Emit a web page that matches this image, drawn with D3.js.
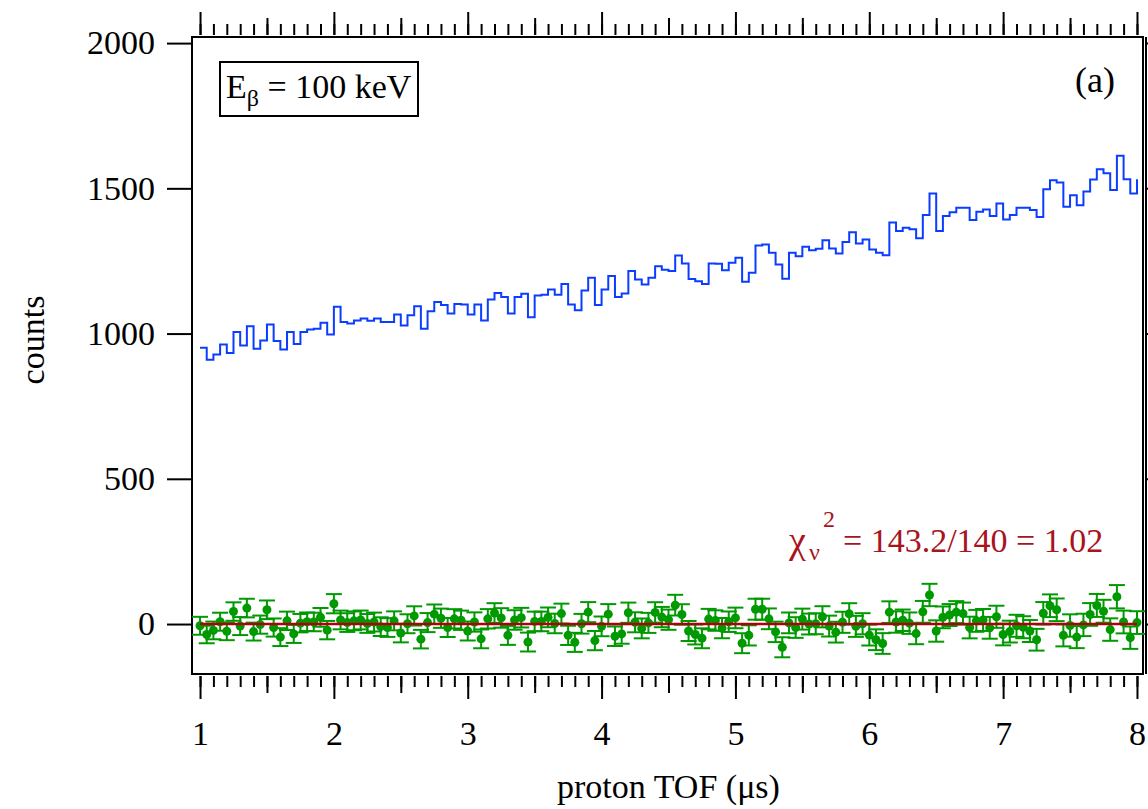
<!DOCTYPE html>
<html lang="en">
<head>
<meta charset="utf-8">
<title>proton TOF spectrum</title>
<script src="https://d3js.org/d3.v7.min.js"></script>
<style>
  body { margin: 0; background: #fff; }
  svg text { font-family: "Liberation Serif", "Times New Roman", serif; }
  .axis text { font-size: 34px; fill: #000; }
  .axis path.domain { display: none; }
  .axis line { stroke: #000; stroke-width: 2; }
</style>
</head>
<body>
<div id="chart"></div>
<script>
// histogram: bins of 0.05 us starting at 1 us
const binStart = 1.0;
const binWidth = 0.05;
const counts = [
  951, 910, 928, 962, 933, 1005, 959, 1025, 948, 976,
  1031, 974, 945, 1005, 964, 1005, 1014, 1017, 1037, 997,
  1092, 1040, 1035, 1045, 1052, 1044, 1052, 1040, 1040, 1066,
  1028, 1063, 1094, 1017, 1077, 1109, 1098, 1069, 1102, 1100,
  1066, 1100, 1045, 1117, 1140, 1126, 1069, 1126, 1137, 1056,
  1131, 1134, 1152, 1134, 1171, 1100, 1080, 1148, 1192, 1098,
  1152, 1198, 1126, 1138, 1215, 1186, 1169, 1192, 1232, 1220,
  1215, 1269, 1241, 1188, 1180, 1171, 1241, 1240, 1218, 1244,
  1261, 1178, 1209, 1303, 1307, 1278, 1238, 1189, 1278, 1266,
  1299, 1287, 1292, 1321, 1293, 1276, 1315, 1349, 1310, 1324,
  1289, 1278, 1270, 1382, 1353, 1364, 1359, 1328, 1408, 1482,
  1353, 1405, 1418, 1433, 1433, 1391, 1419, 1427, 1405, 1448,
  1393, 1408, 1433, 1433, 1425, 1401, 1497, 1528, 1520, 1437,
  1476, 1442, 1489, 1530, 1566, 1552, 1494, 1612, 1531, 1482,
  1531
];
// fit residuals (counts)
const residuals = [
  -6, -36, -22, 8, -25, 43, -7, 55, -26, -2,
  49, -12, -45, 11, -34, 3, 8, 7, 23, -21,
  70, 14, 5, 11, 14, 2, 7, -9, -12, 11,
  -31, 1, 28, -52, 5, 34, 20, -12, 18, 13,
  -24, 7, -51, 18, 38, 21, -39, 14, 22, -62,
  9, 9, 23, 2, 36, -39, -63, 1, 41, -57,
  -8, 34, -42, -34, 39, 6, -15, 4, 40, 24,
  15, 65, 33, -24, -36, -49, 17, 12, -14, 8,
  21, -66, -39, 51, 51, 18, -27, -80, 4, -12,
  17, 0, 1, 25, -7, -28, 6, 35, -8, 1,
  -38, -54, -67, 41, 7, 13, 3, -33, 42, 100,
  -24, 23, 31, 41, 36, -12, 11, 14, -13, 25,
  -36, -26, -6, -11, -24, -54, 37, 63, 49, -39,
  -5, -45, -3, 33, 64, 44, -19, 94, 7, -47,
  5
];
const xTicks = [1, 2, 3, 4, 5, 6, 7, 8];
const yTicks = [0, 500, 1000, 1500, 2000];

const margin = { top: 37, left: 192 };
const width = 951, height = 637;

const data = counts.map(function(c, i) {
  return { t: binStart + i * binWidth, c: c, r: residuals[i], e: Math.sqrt(c) };
});

const x = d3.scaleLinear().domain([0.94, 8.045]).range([0, width]);
const y = d3.scaleLinear().domain([-172, 2021]).range([height, 0]);

const svg = d3.select("#chart").append("svg")
  .attr("width", 1148).attr("height", 809);
const g = svg.append("g")
  .attr("transform", "translate(" + margin.left + "," + margin.top + ")");

// bottom and top axes: major / half / minor ticks
const minorT = d3.range(10, 81).map(function(d) { return d / 10; });
const halfT = [1.5, 2.5, 3.5, 4.5, 5.5, 6.5, 7.5];
function tickLayer(axisFn, vals, size, yPos, labels) {
  const a = axisFn(x).tickValues(vals).tickSize(size);
  if (labels) a.tickPadding(22).tickFormat(d3.format("d"));
  else a.tickFormat("");
  g.append("g").attr("class", "axis")
    .attr("transform", "translate(0," + yPos + ")")
    .call(a);
}
tickLayer(d3.axisBottom, minorT, 11, height + 2, false);
tickLayer(d3.axisBottom, halfT, 17, height + 2, false);
tickLayer(d3.axisBottom, xTicks, 23, height + 2, true);
tickLayer(d3.axisTop, minorT, 11, -2, false);
tickLayer(d3.axisTop, halfT, 17, -2, false);
tickLayer(d3.axisTop, xTicks, 23, -2, false);

// left and right axes
g.append("g").attr("class", "axis")
  .call(d3.axisLeft(y).tickValues(yTicks).tickSize(25).tickPadding(12)
    .tickFormat(d3.format("d")));
g.append("g").attr("class", "axis")
  .attr("transform", "translate(" + (width + 3) + ",0)")
  .call(d3.axisRight(y).tickValues(yTicks).tickSize(25).tickFormat(""));
g.append("line")
  .attr("x1", width + 3).attr("x2", width + 3)
  .attr("y1", 0).attr("y2", height)
  .attr("stroke", "#000").attr("stroke-width", 2);

// frame
g.append("rect")
  .attr("x", 0).attr("y", 0).attr("width", width).attr("height", height)
  .attr("fill", "none").attr("stroke", "#000").attr("stroke-width", 2);

// histogram
const step = d3.line()
  .x(function(d) { return x(d.t); })
  .y(function(d) { return y(d.c); })
  .curve(d3.curveStepAfter);
g.append("path").datum(data)
  .attr("d", step)
  .attr("fill", "none")
  .attr("stroke", "#0a3dff")
  .attr("stroke-width", 2);

// residuals with error bars
const green = "#009a00";
const res = g.append("g");
res.selectAll(".ebar").data(data).enter().append("line")
  .attr("x1", function(d) { return x(d.t); })
  .attr("x2", function(d) { return x(d.t); })
  .attr("y1", function(d) { return y(d.r - d.e); })
  .attr("y2", function(d) { return y(d.r + d.e); })
  .attr("stroke", green).attr("stroke-width", 2);
[-1, 1].forEach(function(s) {
  res.selectAll(".cap" + s).data(data).enter().append("line")
    .attr("x1", function(d) { return x(d.t) - 8; })
    .attr("x2", function(d) { return x(d.t) + 8; })
    .attr("y1", function(d) { return y(d.r + s * d.e); })
    .attr("y2", function(d) { return y(d.r + s * d.e); })
    .attr("stroke", green).attr("stroke-width", 2);
});
res.selectAll("circle").data(data).enter().append("circle")
  .attr("cx", function(d) { return x(d.t); })
  .attr("cy", function(d) { return y(d.r); })
  .attr("r", 4.5)
  .attr("fill", green);

// zero line of the fit
g.append("line")
  .attr("x1", x(xTicks[0])).attr("x2", x(xTicks[xTicks.length - 1]))
  .attr("y1", y(0)).attr("y2", y(0))
  .attr("stroke", "#b00010").attr("stroke-width", 2.5);

// legend box
g.append("rect")
  .attr("x", 28).attr("y", 25).attr("width", 198).attr("height", 54)
  .attr("fill", "#fff").attr("stroke", "#000").attr("stroke-width", 2);
const leg = g.append("text").attr("x", 34).attr("y", 61).style("font-size", "34px");
leg.append("tspan").text("E");
leg.append("tspan").attr("dy", 8).style("font-size", "24px").text("β");
leg.append("tspan").attr("dy", -8).text(" = 100 keV");

g.append("text")
  .attr("x", 923).attr("y", 55)
  .attr("text-anchor", "end")
  .style("font-size", "36px")
  .text("(a)");

// chi-square annotation
const chi = g.append("text").attr("fill", "#a8141c").style("font-size", "34px");
chi.append("tspan").attr("x", 597).attr("y", 516).style("font-size", "38px").text("χ");
chi.append("tspan").attr("x", 617).attr("y", 523).style("font-size", "24px").text("ν");
chi.append("tspan").attr("x", 631).attr("y", 490).style("font-size", "24px").text("2");
chi.append("tspan").attr("x", 651).attr("y", 515).text("= 143.2/140 = 1.02");

// axis titles
g.append("text")
  .attr("x", x(4.5)).attr("y", 761)
  .attr("text-anchor", "middle")
  .style("font-size", "34px")
  .text("proton TOF (μs)");
g.append("text")
  .attr("transform", "translate(" + (44 - margin.left) + "," + (340 - margin.top) + ") rotate(-90)")
  .attr("text-anchor", "middle")
  .style("font-size", "34px")
  .text("counts");
</script>
</body>
</html>
